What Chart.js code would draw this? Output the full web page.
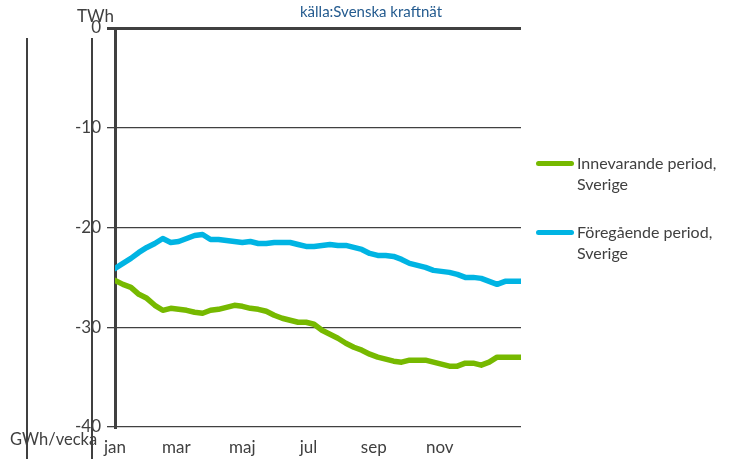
<!DOCTYPE html>
<html>
<head>
<meta charset="utf-8">
<script src="https://cdn.jsdelivr.net/npm/chart.js@4"></script>
<style>
  body { margin: 0; background: #fff; }
  #wrap { position: relative; width: 733px; height: 459px; font-family: Lato, sans-serif; color: #404040; }
  #wrap canvas { position: absolute; left: 0; top: 0; }
  .t { position: absolute; white-space: nowrap; font-size: 16px; line-height: 1; }
  .vl { position: absolute; top: 38px; bottom: 0; width: 1.5px; background: #404040; }
  .key { position: absolute; height: 5px; width: 38px; border-radius: 3px; }
  .lg { position: absolute; font-size: 16px; line-height: 21px; white-space: nowrap; }
</style>
</head>
<body>
<div id="wrap">
  <canvas id="c" width="733" height="459"></canvas>
  <div class="vl" style="left:26px"></div>
  <div class="vl" style="left:91px"></div>
  <div class="t" style="left:300px;top:4px;font-size:15px;color:#245b8f">källa:Svenska kraftnät</div>
  <div class="t" style="left:77px;top:7px;font-size:17px">TWh</div>
  <div class="t" style="left:10px;top:431px;font-size:16.5px">GWh/vecka</div>
  <div id="legend"></div>
</div>
<script>
// veckovärden, magasinsavvikelse (TWh)
const innevarande = [
  -25.3, -25.7, -26.0, -26.7, -27.1, -27.8, -28.3, -28.1, -28.2, -28.3,
  -28.5, -28.6, -28.3, -28.2, -28.0, -27.8, -27.9, -28.1, -28.2, -28.4,
  -28.8, -29.1, -29.3, -29.5, -29.5, -29.7, -30.3, -30.7, -31.1, -31.6,
  -32.0, -32.3, -32.7, -33.0, -33.2, -33.4, -33.5, -33.3, -33.3, -33.3,
  -33.5, -33.7, -33.9, -33.9, -33.6, -33.6, -33.8, -33.5, -33.0, -33.0,
  -33.0, -33.0
];
const foregaende = [
  -24.1, -23.6, -23.1, -22.5, -22.0, -21.6, -21.1, -21.5, -21.4, -21.1,
  -20.8, -20.7, -21.2, -21.2, -21.3, -21.4, -21.5, -21.4, -21.6, -21.6,
  -21.5, -21.5, -21.5, -21.7, -21.9, -21.9, -21.8, -21.7, -21.8, -21.8,
  -22.0, -22.2, -22.6, -22.8, -22.8, -22.9, -23.2, -23.6, -23.8, -24.0,
  -24.3, -24.4, -24.5, -24.7, -25.0, -25.0, -25.1, -25.4, -25.7, -25.4,
  -25.4, -25.4
];
const monthLabels = ['jan', 'mar', 'maj', 'jul', 'sep', 'nov'];
const monthWeeks = [0, 7.7, 16, 24.3, 32.5, 40.8];
const yTicks = [0, -10, -20, -30, -40];

const series = [
  { label: ['Innevarande period,', 'Sverige'], data: innevarande, color: '#76b900' },
  { label: ['Föregående period,', 'Sverige'], data: foregaende, color: '#00b4e3' }
];

const grey = '#404040';
const font = { family: 'Lato', size: 17 };

new Chart(document.getElementById('c'), {
  type: 'line',
  data: {
    datasets: series.map(s => ({
      label: s.label.join(' '),
      data: s.data.map((v, i) => ({ x: i, y: v })),
      borderColor: s.color,
      borderWidth: 5.5,
      pointRadius: 0,
      tension: 0,
      borderCapStyle: 'round',
      borderJoinStyle: 'round'
    }))
  },
  options: {
    responsive: false,
    animation: false,
    layout: { padding: { left: 0, right: 212, top: 28, bottom: 0 } },
    plugins: { legend: { display: false }, tooltip: { enabled: false } },
    scales: {
      x: {
        type: 'linear', min: 0, max: innevarande.length - 1,
        afterBuildTicks: s => { s.ticks = monthWeeks.map(v => ({ value: v })); },
        afterFit: s => { s.height = 32; },
        ticks: { autoSkip: false, maxRotation: 0, color: grey, font, padding: 2, callback: (v, i) => monthLabels[i] },
        grid: { display: false },
        border: { display: false }
      },
      y: {
        min: -40, max: 0,
        afterBuildTicks: s => { s.ticks = yTicks.map(v => ({ value: v })); },
        afterFit: s => { s.width = 115; },
        ticks: { color: grey, font, padding: 6 },
        grid: { color: grey, lineWidth: c => (c.tick && c.tick.value === 0 ? 3 : 1.3), tickLength: 8 },
        border: { display: true, color: grey, width: 3 }
      }
    }
  }
});

// förklaring till höger
const lg = document.getElementById('legend');
const legendTop = [163, 232];
series.forEach((s, i) => {
  const key = document.createElement('div');
  key.className = 'key';
  key.style.cssText = `left:536px;top:${legendTop[i] - 2.5}px;background:${s.color}`;
  lg.appendChild(key);
  const txt = document.createElement('div');
  txt.className = 'lg';
  txt.style.cssText = `left:577px;top:${legendTop[i] - 11}px`;
  txt.innerHTML = s.label.join('<br>');
  lg.appendChild(txt);
});
</script>
</body>
</html>
